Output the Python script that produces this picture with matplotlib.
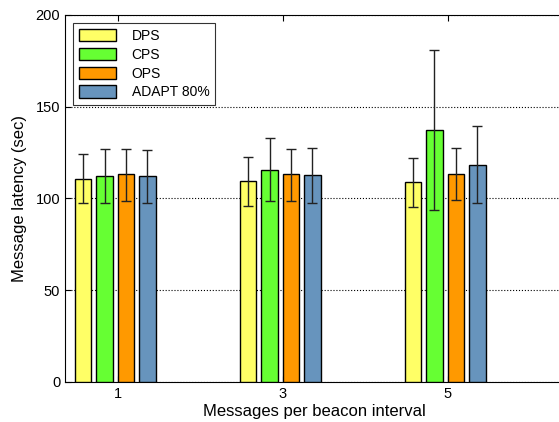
import numpy as np
import matplotlib
matplotlib.use('Agg')
import matplotlib.pyplot as plt

plt.rcParams['font.family'] = ['Liberation Sans', 'DejaVu Sans']

# data
groups = [1, 3, 5]
series = ['DPS', 'CPS', 'OPS', 'ADAPT 80%']
colors = ['#ffff66', '#66ff33', '#ff9900', '#6794bd']
means = [
    [110.8, 109.4, 109.0],   # DPS
    [112.3, 115.7, 137.5],   # CPS
    [113.2, 113.2, 113.4],   # OPS
    [112.1, 112.6, 118.3],   # ADAPT 80%
]
err_low = [
    [97.5, 95.9, 95.6],
    [97.5, 98.6, 93.7],
    [98.8, 98.8, 99.0],
    [97.4, 97.6, 97.4],
]
err_high = [
    [124.1, 122.8, 122.3],
    [127.1, 133.2, 181.1],
    [127.1, 127.1, 127.7],
    [126.6, 127.6, 139.3],
]

fig = plt.figure(figsize=(5.59, 4.22), dpi=100)
ax = fig.add_axes([0.1163, 0.0948, 0.891, 0.8697])

x = np.array(groups, dtype=float)
offsets = [-0.52, -0.26, 0.0, 0.26]
width = 0.2
for i in range(len(series)):
    m = np.array(means[i])
    lo = m - np.array(err_low[i])
    hi = np.array(err_high[i]) - m
    ax.bar(x + offsets[i], m, width, align='edge', color=colors[i],
           edgecolor='black', linewidth=1.0, label=series[i], zorder=3)
    ax.errorbar(x + offsets[i] + width / 2, m, yerr=[lo, hi], fmt='none',
                ecolor='#222222', elinewidth=1.0, capsize=3.5, capthick=1.0, zorder=4)

ax.set_xlim(0.36, 6.4)
ax.set_ylim(0, 200)
ax.set_xticks(groups)
ax.set_yticks([0, 50, 100, 150, 200])
ax.tick_params(direction='in', top=True, right=False, labelsize=10.5, length=4)
ax.yaxis.grid(True, linestyle=':', color='black', linewidth=0.8)
ax.set_axisbelow(True)
ax.set_xlabel('Messages per beacon interval', fontsize=12, labelpad=2)
ax.set_ylabel('Message latency (sec)', fontsize=12, labelpad=6)

leg = ax.legend(loc='upper left', fontsize=10, fancybox=False, edgecolor='black',
                handlelength=2.7, handleheight=1.0, labelspacing=0.35,
                handletextpad=1.1, borderaxespad=0.6)
leg.get_frame().set_linewidth(0.8)

fig.savefig('out.png', dpi=100)
